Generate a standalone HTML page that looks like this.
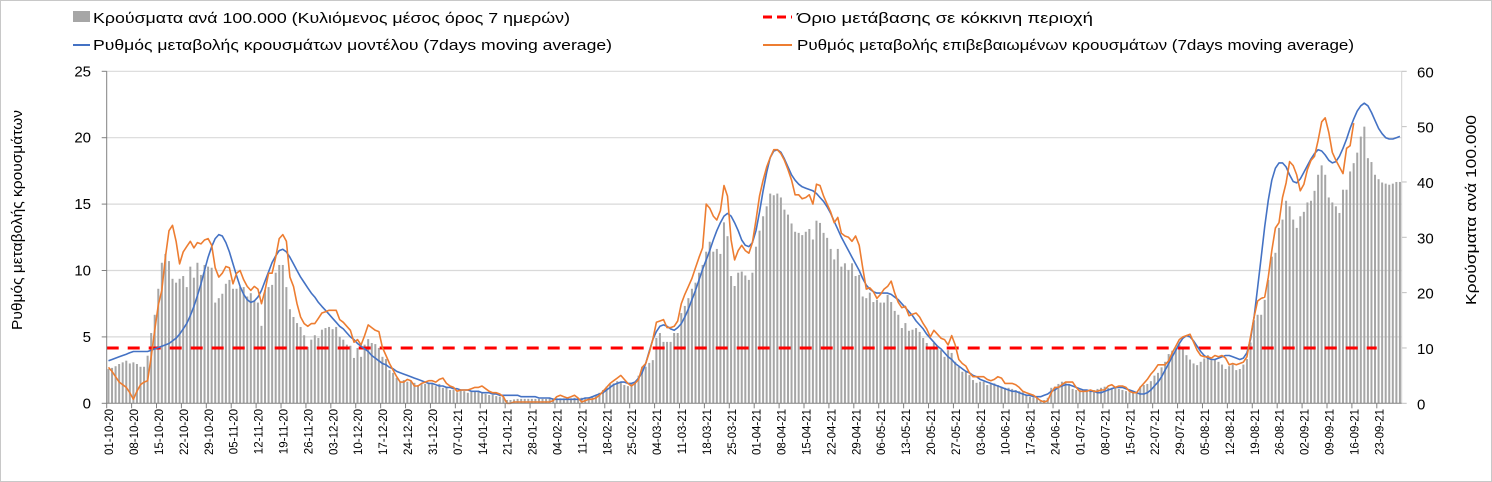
<!DOCTYPE html>
<html><head><meta charset="utf-8">
<style>
body{margin:0;background:#fff;}
svg{display:block;font-family:"Liberation Sans",Arial,sans-serif;}
</style></head>
<body>
<svg id="chart" width="1492" height="482" viewBox="0 0 1492 482" xmlns="http://www.w3.org/2000/svg">
<rect x="0.5" y="0.5" width="1491" height="481" fill="#fff" stroke="#c8c8c8"/>
<g font-size="15" fill="#000">
  <g><rect x="73" y="11" width="17" height="11" fill="#a6a6a6"/><text x="93" y="23" textLength="477" lengthAdjust="spacingAndGlyphs">Κρούσματα ανά 100.000 (Κυλιόμενος μέσος όρος 7 ημερών)</text></g>
  <g><line x1="763" y1="17" x2="792" y2="17" stroke="#ff0000" stroke-width="3" stroke-dasharray="9,5"/><text x="797" y="23" textLength="296" lengthAdjust="spacingAndGlyphs">Όριο μετάβασης σε κόκκινη περιοχή</text></g>
  <g><line x1="73" y1="45" x2="90" y2="45" stroke="#4472c4" stroke-width="2"/><text x="93" y="50" textLength="519" lengthAdjust="spacingAndGlyphs">Ρυθμός μεταβολής κρουσμάτων μοντέλου (7days moving average)</text></g>
  <g><line x1="763" y1="45" x2="792" y2="45" stroke="#ed7d31" stroke-width="2"/><text x="797" y="50" textLength="557" lengthAdjust="spacingAndGlyphs">Ρυθμός μεταβολής επιβεβαιωμένων κρουσμάτων (7days moving average)</text></g>
</g>
<g id="grid"></g>
<g id="bars"></g>
<g id="lines"></g>
<g id="axes"></g>
<text transform="translate(22,220) rotate(-90)" text-anchor="middle" font-size="15" textLength="220" lengthAdjust="spacingAndGlyphs">Ρυθμός μεταβολής κρουσμάτων</text>
<text transform="translate(1476,210) rotate(-90)" text-anchor="middle" font-size="15" textLength="190" lengthAdjust="spacingAndGlyphs">Κρούσματα ανά 100.000</text>
</svg>
<script>
const barValues=[6.2,6.4,6.7,7.1,7.4,7.7,7.2, 7.4,7.1,6.6,6.6,8.6,12.7,16, 20.7,25.4,27,25.7,22.5,21.8,22.5, 23,21,24.7,22.7,25.4,23.2,25, 24.7,24.5,18.2,19,19.8,21.6,22.3, 20.7,20.7,21,21,19.3,19.9,18.5, 18.2,14,20.5,21,21.4,23.6,25, 25,21,17,15.6,14.5,13.8,12.3, 10.2,11.5,12.3,11.8,13.3,13.6,13.8, 13.4,13.8,12,11.5,10.6,10.4,8.2, 10,8.4,10.6,11.6,10.9,10.7,10, 8.4,8,6,5.5,4.6,3.9,4.2, 3.9,4,3.7,3.3,3.5,3.5,3.5, 3.5,3.1,3.5,2.8,3,2.4,2.4, 2,2.4,2.2,1.9,2.2,2.2,2.2, 1.8,1.7,1.5,1.5,1.3,1.2,1.2, 0.6,0.6,0.7,0.8,0.8,0.8,0.8, 0.8,0.8,0.8,0.8,0.8,0.9,0.9, 0.9,0.9,0.9,0.9,0.9,1,1, 1,1,1.1,1.3,1.5,1.9,2.4, 3,3.5,3.6,4,3.9,3.3,3.1, 3.6,3.9,5,6.6,6.6,7.3,7.8, 11.8,12.7,11.1,11.1,11.1,12.7,12.7, 16.3,17.6,19,20.7,21.8,23.6,25, 27.4,29.2,27.4,27.9,27,32.7,30.2, 23,21.2,23.6,23.8,23.1,22.3,23.6, 28.3,31.2,33.8,35.6,37.9,37.6,37.9, 37.2,35,34.1,32.5,31,30.8,30.4, 31,31.5,29.6,33,32.6,30.8,29.9, 27.9,26,27.9,24.7,25.3,24.1,25.3, 23,23.2,19.3,19,20,18.3,18.7, 18.2,18.2,19.6,18.3,16.7,16,13.6, 14.5,13.1,13.3,13.6,12.9,11.8,10.9, 10,10.9,10.2,9.6,8.4,9.6,9.1, 7.5,6.6,5.7,5.7,5.1,4.2,3.7, 3.9,3.9,3.3,3.5,3.6,3.3,3, 2.8,2.8,2.6,2.4,2.2,2,1.6, 1.2,1,1,0.6,0.6,1,2.8, 3,3.5,3.9,3.9,3.5,2.6,2.4, 2.4,2.4,2.2,2.2,2.4,2.6,2.8, 3,2.8,2.8,2.8,2.6,2.4,2.2, 2,2,2,3,3.3,3.5,4, 5,5.5,6.5,7.5,8.9,9.5,10, 10.6,10,8.7,7.9,7.2,6.9,7.5, 8.1,8.7,7.8,8,7.5,7,6.2, 6.7,7,6,6.2,7,8,11, 15,16,16,18.7,22.3,26.5,27.2, 31.7,33.2,36.6,35.6,33.2,31.7,33.8, 34.6,36.3,36.6,38.4,41.3,43,41.3, 37.2,36.3,35.6,34.4,38.6,38.6,41.9, 43.4,45.3,48.2,50,44.3,43.6,41.3, 40.5,39.9,39.7,39.5,39.7,40,40];
const modelValues=[3.2,3.3,3.4,3.5,3.6,3.7,3.8,3.9,3.9,3.9, 3.9,3.9,4.0,4.1,4.2,4.3,4.4,4.5,4.7,4.9, 5.2,5.6,6.0,6.6,7.3,8.1,9.0,10.0,11.0,11.8, 12.4,12.7,12.6,12.1,11.4,10.5,9.6,8.8,8.2,7.8, 7.6,7.7,8.0,8.5,9.2,9.9,10.6,11.1,11.5,11.6, 11.4,11.0,10.5,10.0,9.5,9.1,8.7,8.3,8.0,7.6, 7.3,7.0,6.7,6.4,6.1,5.8,5.6,5.3,5.0,4.8, 4.5,4.3,4.1,3.9,3.6,3.4,3.2,3.0,2.9,2.7, 2.6,2.4,2.3,2.2,2.1,2.0,1.9,1.8,1.7,1.6, 1.5,1.5,1.4,1.3,1.3,1.2,1.2,1.1,1.1,1.0, 1.0,1.0,0.9,0.9,0.9,0.8,0.8,0.8,0.7,0.7, 0.6,0.6,0.6,0.6,0.6,0.6,0.5,0.5,0.5,0.5, 0.5,0.4,0.4,0.4,0.4,0.3,0.3,0.3,0.3,0.3, 0.3,0.3,0.3,0.3,0.4,0.4,0.5,0.6,0.7,0.8, 1.0,1.2,1.4,1.5,1.6,1.6,1.5,1.5,1.6,1.9, 2.3,3.0,3.9,4.8,5.4,5.8,5.9,5.8,5.6,5.5, 5.7,6.0,6.5,7.1,7.8,8.5,9.3,10.1,10.8,11.5, 12.3,13.0,13.6,14.1,14.3,14.1,13.6,13.0,12.3,11.9, 11.8,12.1,13.0,14.4,16.0,17.4,18.5,19.0,19.1,18.9, 18.4,17.8,17.2,16.8,16.5,16.3,16.2,16.1,16.0,15.8, 15.5,15.2,14.8,14.3,13.7,13.1,12.5,12.0,11.5,11.0, 10.5,10.0,9.4,8.9,8.6,8.4,8.3,8.3,8.3,8.3, 8.2,8.0,7.8,7.5,7.2,6.9,6.6,6.2,5.9,5.6, 5.2,4.9,4.6,4.3,4.1,3.8,3.5,3.3,3.0,2.8, 2.6,2.4,2.3,2.1,2.0,1.8,1.7,1.6,1.5,1.4, 1.3,1.2,1.1,1.0,0.9,0.9,0.8,0.7,0.6,0.6, 0.5,0.5,0.5,0.6,0.7,0.9,1.0,1.2,1.3,1.4, 1.4,1.3,1.2,1.1,1.0,1.0,0.9,0.9,0.8,0.8, 0.9,1.0,1.1,1.2,1.2,1.2,1.1,1.0,0.9,0.8, 0.7,0.7,0.8,1.0,1.3,1.6,2.0,2.5,3.0,3.5, 4.0,4.5,4.9,5.1,5.0,4.7,4.3,3.9,3.6,3.4, 3.3,3.3,3.4,3.5,3.6,3.6,3.5,3.4,3.3,3.4, 3.8,4.8,6.5,8.7,11.0,13.3,15.3,16.8,17.7,18.1, 18.1,17.8,17.2,16.7,16.6,16.9,17.4,17.9,18.4,18.8, 19.1,19.0,18.7,18.3,18.1,18.2,18.6,19.2,19.9,20.7, 21.4,22.0,22.4,22.6,22.4,21.9,21.3,20.7,20.3,20.0, 19.9,19.9,20.0,20.1];
const confirmedValues=[2.7,2.4,2.0,1.6,1.4,1.2,0.8,0.3,0.9,1.4, 1.6,1.7,3.5,5.5,7.4,8.5,11.0,13.0,13.4,12.2, 10.5,11.4,11.8,12.2,11.7,12.1,12.0,12.3,12.4,11.9, 10.2,9.5,9.8,10.3,10.2,9.0,9.8,10.0,9.3,8.8, 8.5,8.8,8.6,7.5,8.5,9.8,9.8,11.0,12.4,12.7, 12.2,9.5,8.8,7.5,6.5,6.0,5.8,6.0,6.0,6.4, 6.8,6.9,7.0,7.0,7.0,6.3,6.1,5.8,5.5,4.6, 4.8,4.4,5.1,5.9,5.7,5.5,5.4,4.2,3.6,3.0, 2.5,2.0,1.6,1.6,1.8,1.7,1.3,1.3,1.5,1.6, 1.7,1.7,1.6,1.8,1.9,1.5,1.3,1.2,0.9,1.0, 1.0,1.0,1.1,1.2,1.2,1.3,1.1,0.9,0.8,0.8, 0.7,0.5,0.0,0.0,0.1,0.1,0.1,0.1,0.1,0.1, 0.1,0.1,0.1,0.1,0.1,0.2,0.5,0.6,0.5,0.4, 0.5,0.6,0.4,0.1,0.2,0.3,0.3,0.4,0.6,0.9, 1.2,1.5,1.7,1.9,2.1,1.8,1.5,1.3,1.5,1.8, 2.7,3.0,3.8,4.8,6.1,6.2,6.3,5.7,5.7,5.8, 6.2,7.5,8.2,8.8,9.4,10.2,11.0,11.7,15.0,14.7, 14.1,13.8,14.5,16.4,15.6,12.3,10.8,11.5,11.9,11.5, 11.3,12.1,13.8,15.6,16.8,17.8,18.5,19.1,19.1,18.8, 18.3,17.6,16.8,15.7,15.7,15.4,15.5,15.7,15.0,16.5, 16.4,15.6,15.0,14.4,13.6,14.0,12.8,12.6,12.5,12.2, 12.6,11.9,10.2,8.6,8.7,8.4,7.9,8.2,8.6,8.8, 9.2,8.3,7.6,7.2,7.3,6.6,6.7,6.8,6.5,6.0, 5.6,5.0,5.5,5.2,4.9,4.8,4.4,5.1,4.4,3.3, 3.0,2.8,2.3,2.0,2.0,2.0,2.0,1.8,1.7,1.8, 2.0,1.9,1.5,1.5,1.5,1.4,1.2,0.9,0.8,0.7, 0.6,0.4,0.2,0.1,0.2,0.8,1.2,1.2,1.4,1.6, 1.6,1.6,1.2,0.9,0.9,0.9,1.0,0.9,0.9,1.0, 1.0,1.3,1.4,1.2,1.3,1.3,1.2,0.9,0.8,0.8, 1.2,1.5,1.8,2.2,2.5,2.9,2.9,2.9,3.2,3.8, 4.3,4.8,5.0,5.1,5.2,4.6,4.0,3.6,3.5,3.5, 3.4,3.6,3.5,3.6,3.4,2.9,3.0,2.9,3.0,3.1, 3.5,5.0,6.5,7.7,7.9,8.0,9.5,11.5,13.2,13.6, 15.5,16.6,18.2,17.9,17.2,16.0,16.5,17.6,18.3,18.6, 19.8,21.2,21.5,20.4,18.9,18.3,17.8,17.3,19.2,19.4, 21.1];
const thresholdValue=10;
const tickLabels=["01-10-20","08-10-20","15-10-20","22-10-20","29-10-20","05-11-20","12-11-20","19-11-20","26-11-20","03-12-20","10-12-20","17-12-20","24-12-20","31-12-20","07-01-21","14-01-21","21-01-21","28-01-21","04-02-21","11-02-21","18-02-21","25-02-21","04-03-21","11-03-21","18-03-21","25-03-21","01-04-21","08-04-21","15-04-21","22-04-21","29-04-21","06-05-21","13-05-21","20-05-21","27-05-21","03-06-21","10-06-21","17-06-21","24-06-21","01-07-21","08-07-21","15-07-21","22-07-21","29-07-21","05-08-21","12-08-21","19-08-21","26-08-21","02-09-21","09-09-21","16-09-21","23-09-21"];
const leftTicks=[0,5,10,15,20,25];
const rightTicks=[0,10,20,30,40,50,60];

const NS="http://www.w3.org/2000/svg";
const X0=106.7,X1=1401.7,Y0=403.3,Y1=71.3;
const N=barValues.length;
const bw=(X1-X0)/N;
function xC(i){return X0+(i+0.5)*bw;}
function xT(i){return X0+i*bw;}
function yL(v){return Y0-(v/25)*(Y0-Y1);}
function yR(v){return Y0-(v/60)*(Y0-Y1);}
function mk(tag,attrs,parent){const e=document.createElementNS(NS,tag);for(const k in attrs)e.setAttribute(k,attrs[k]);parent.appendChild(e);return e;}
const grid=document.getElementById('grid'),barsG=document.getElementById('bars'),linesG=document.getElementById('lines'),axes=document.getElementById('axes');

leftTicks.forEach(v=>{
  if(v>0){const g=mk('line',{x1:X0,x2:X1,y1:yL(v),y2:yL(v),stroke:'#d9d9d9','stroke-width':1.2},grid);
  
  }
  const t=mk('text',{x:91,y:yL(v)+5,'text-anchor':'end','font-size':15},axes);t.textContent=v;
  
  
  mk('line',{x1:X0-5,x2:X0,y1:yL(v),y2:yL(v),stroke:'#808080'},axes);
});
rightTicks.forEach(v=>{
  const t=mk('text',{x:1417,y:yR(v)+6,'font-size':15},axes);t.textContent=v;
  
  
  mk('line',{x1:X1,x2:X1+5,y1:yR(v),y2:yR(v),stroke:'#bfbfbf'},axes);
});
barValues.forEach((v,i)=>{
  const r=mk('rect',{x:xC(i)-1,y:yR(v),width:2,height:Y0-yR(v),fill:'#a6a6a6'},barsG);
  
  
});
const th=mk('line',{x1:X0,x2:X1-25,y1:yR(thresholdValue),y2:yR(thresholdValue),stroke:'#ff0000','stroke-width':3,'stroke-dasharray':'12,9'},linesG);


function path(vals,col,name){
  let d='';vals.forEach((v,i)=>{d+=(i?'L':'M')+xC(i).toFixed(1)+','+yL(v).toFixed(1);});
  const p=mk('path',{d:d,fill:'none',stroke:col,'stroke-width':1.6,'stroke-linejoin':'round'},linesG);
  
  
}
path(modelValues,'#4472c4','line-model-rate');
path(confirmedValues,'#ed7d31','line-confirmed-rate');
mk('line',{x1:X0,x2:X0,y1:Y1,y2:Y0,stroke:'#808080'},axes);
mk('line',{x1:X1,x2:X1,y1:Y1,y2:Y0,stroke:'#d0d0d0'},axes);
mk('line',{x1:X0,x2:X1,y1:Y0,y2:Y0,stroke:'#808080'},axes);
tickLabels.forEach((lab,k)=>{
  const x=xT(k*7);
  mk('line',{x1:x,x2:x,y1:Y0,y2:Y0+5,stroke:'#808080'},axes);
  const t=mk('text',{transform:'translate('+(x+6.5)+',409) rotate(-90)','text-anchor':'end','font-size':11.5},axes);
  t.textContent=lab;
  
  
});
</script>
</body></html>
